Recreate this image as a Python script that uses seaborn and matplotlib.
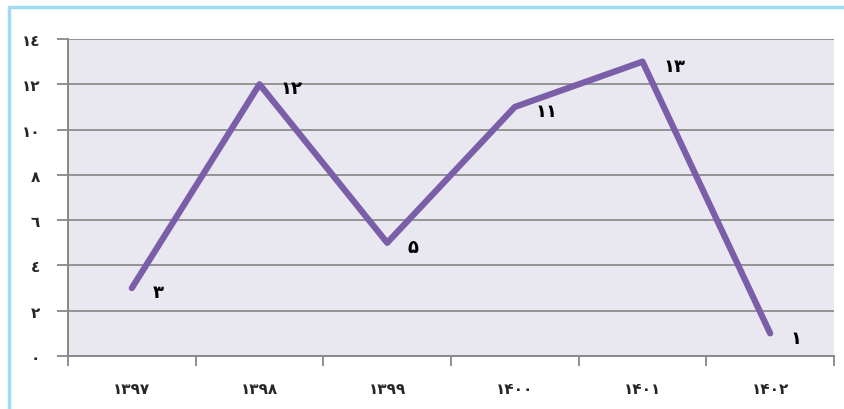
import matplotlib
matplotlib.use('Agg')
import matplotlib.pyplot as plt
import seaborn as sns
import pandas as pd

years = ['۱۳۹۷', '۱۳۹۸', '۱۳۹۹', '۱۴۰۰', '۱۴۰۱', '۱۴۰۲']
values = [3, 12, 5, 11, 13, 1]
point_labels = ['۳', '۱۲', '۵', '۱۱', '۱۳', '۱']
y_ticks = [0, 2, 4, 6, 8, 10, 12, 14]
y_tick_labels = ['٠', '٢', '٤', '٦', '٨', '١٠', '١٢', '١٤']

df = pd.DataFrame({'year': years, 'value': values})

sns.set_style('white')
plt.rcParams['font.family'] = ['DejaVu Sans']

fig = plt.figure(figsize=(8.45, 4.1), dpi=100)
ax = fig.add_axes([68 / 845, 1 - 357 / 410, 766 / 845, 317 / 410])
ax.set_facecolor('#e9e7ef')

sns.lineplot(data=df, x='year', y='value', ax=ax, color='#7b5ea8',
             linewidth=4.5, sort=False, solid_capstyle='round')

for i, (v, lab) in enumerate(zip(values, point_labels)):
    ax.annotate(lab, (i, v), xytext=(15, -3), textcoords='offset points',
                ha='left', va='center', fontsize=13, fontweight='bold',
                color='black')

ax.set_xlim(-0.5, 5.5)
ax.set_ylim(0, 14)
ax.set_yticks(y_ticks)
ax.set_yticklabels(y_tick_labels, fontsize=11, fontweight='bold')
ax.set_xticks(range(len(years)))
ax.set_xticklabels(years, fontsize=11, fontweight='bold')
ax.set_xticks([i - 0.5 for i in range(len(years) + 1)], minor=True)
ax.tick_params(axis='x', which='major', bottom=True, length=0, pad=18)
ax.tick_params(axis='x', which='minor', bottom=True, length=7, color='#888888', width=1.3)
ax.tick_params(axis='y', left=True, length=8, color='#888888', width=1.3, pad=12)
ax.yaxis.grid(True, color='#939393', linewidth=1.4)
ax.set_axisbelow(True)
ax.set_xlabel('')
ax.set_ylabel('')

for s in ['top', 'right']:
    ax.spines[s].set_visible(False)
for s in ['left', 'bottom']:
    ax.spines[s].set_color('#888888')
    ax.spines[s].set_linewidth(1.4)

# light blue chart frame (left and top edges)
fig.add_artist(plt.Line2D([9 / 845, 9 / 845], [0, 1 - 8 / 410], transform=fig.transFigure,
                          color='#9fdcef', linewidth=2.5))
fig.add_artist(plt.Line2D([9 / 845, 1], [1 - 8 / 410, 1 - 8 / 410], transform=fig.transFigure,
                          color='#9fdcef', linewidth=2.5))

fig.savefig('out.png', dpi=100)
